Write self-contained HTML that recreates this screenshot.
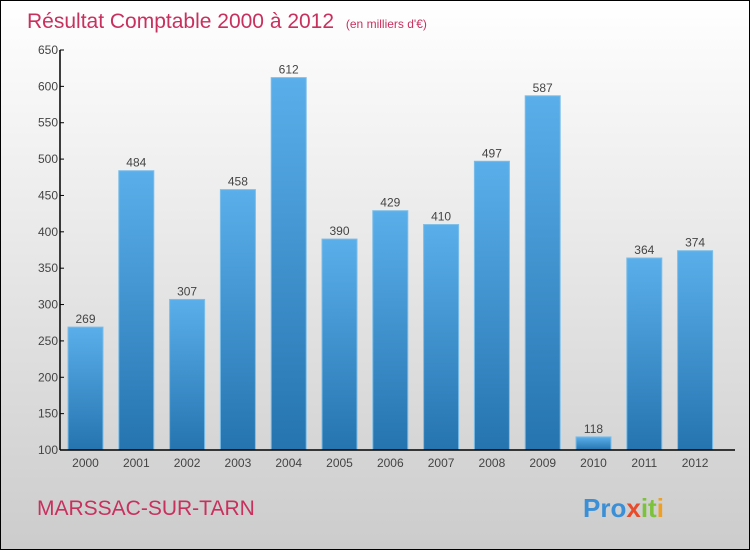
<!DOCTYPE html>
<html><head><meta charset="utf-8"><style>
body{margin:0}
#wrap{width:748px;height:548px;border:1px solid #000;background:linear-gradient(#ffffff,#cccccc);position:relative;font-family:"Liberation Sans",sans-serif}
</style></head><body>
<div id="wrap">
<svg id="svg" width="748" height="548" style="position:absolute;left:0;top:0">
<defs><linearGradient id="bg" x1="0" y1="0" x2="0" y2="1"><stop offset="0" stop-color="#5aafea"/><stop offset="1" stop-color="#2574b0"/></linearGradient></defs>
<text x="26" y="27" font-size="21" fill="#c8305e">Résultat Comptable 2000 à 2012 <tspan font-size="12" dx="6">(en milliers d'€)</tspan></text>
<text x="36" y="514" font-size="21" fill="#c8305e">MARSSAC-SUR-TARN</text>
<text x="582" y="516" font-size="26" font-weight="bold"><tspan fill="#3a8fd6">Pro</tspan><tspan fill="#e84a2a">x</tspan><tspan fill="#7cc23a">it</tspan><tspan fill="#f0a020">i</tspan></text>
<g id="plot"></g>
</svg>
</div>
<script>
const years=["2000","2001","2002","2003","2004","2005","2006","2007","2008","2009","2010","2011","2012"];
const values=[269,484,307,458,612,390,429,410,497,587,118,364,374];
const yTicks=[100,150,200,250,300,350,400,450,500,550,600,650];
const NS="http://www.w3.org/2000/svg";
const g=document.getElementById('plot');
const y0=449,y1=49,vmin=100,vmax=650,ax=59;
const y=v=>y0-(v-vmin)/(vmax-vmin)*(y0-y1);
const x=i=>84.5+i*50.8;
function el(t,a,txt){const e=document.createElementNS(NS,t);for(const k in a)e.setAttribute(k,a[k]);if(txt!=null)e.textContent=txt;g.appendChild(e);return e;}
values.forEach((v,i)=>{
 const r=el('rect',{x:x(i)-17.5,y:y(v),width:35,height:y0-y(v),fill:'url(#bg)',stroke:'#7bbde8','stroke-width':1});
 
 
 const t=el('text',{x:x(i),y:y(v)-4,'text-anchor':'middle','font-size':12,fill:'#444'},String(v));
 
 
 const xl=el('text',{x:x(i),y:466,'text-anchor':'middle','font-size':12,fill:'#444'},years[i]);
 
 
});
yTicks.forEach(v=>{
 const tk=el('line',{x1:ax,x2:ax+4,y1:y(v),y2:y(v),stroke:'#000'});
 
 
 const t=el('text',{x:ax-2,y:y(v)+4,'text-anchor':'end','font-size':12,fill:'#444'},String(v));
 
 
});
const ya=el('line',{x1:ax,x2:ax,y1:y1,y2:y0,stroke:'#000','stroke-width':1.5});


const xa=el('line',{x1:ax,x2:734,y1:y0,y2:y0,stroke:'#000','stroke-width':1.5});


</script>
</body></html>
